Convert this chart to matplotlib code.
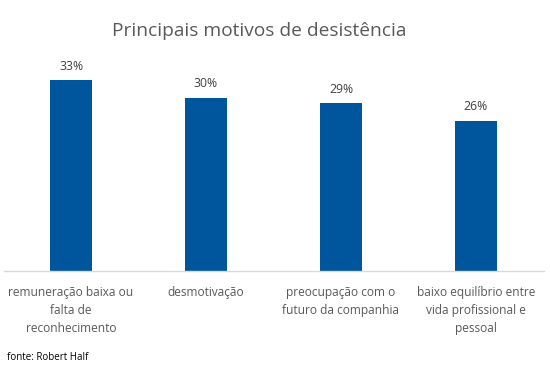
import matplotlib
matplotlib.use("Agg")
import matplotlib.pyplot as plt

categories = ["remuneração baixa ou\nfalta de\nreconhecimento",
              "desmotivação",
              "preocupação com o\nfuturo da companhia",
              "baixo equilíbrio entre\nvida profissional e\npessoal"]
values = [33, 30, 29, 26]
value_labels = ["33%", "30%", "29%", "26%"]
title = "Principais motivos de desistência"
source = "fonte: Robert Half"

plt.rcParams['font.family'] = ['Open Sans', 'DejaVu Sans']
W, H = 550, 367
fig = plt.figure(figsize=(W/100, H/100), dpi=100)
left, right = 3.5/W, 543.5/W
bottom = (H-271)/H
top = (H-60)/H
ax = fig.add_axes([left, bottom, right-left, top-bottom])
x = list(range(len(values)))
ax.bar(x, values, width=0.31, color="#00569C")
ax.set_xlim(-0.5, len(values)-0.5)
ax.set_ylim(0, (271-60)/5.78)
for s in ["top", "right", "left"]:
    ax.spines[s].set_visible(False)
ax.spines["bottom"].set_color("#D9D9D9")
ax.spines["bottom"].set_linewidth(1.0)
ax.set_yticks([])
ax.set_xticks(x)
ax.set_xticklabels(categories, fontsize=8.6, color="#595959", va="top", linespacing=1.5)
ax.tick_params(axis="x", length=0, pad=11)
for xi, v, lab in zip(x, values, value_labels):
    ax.annotate(lab, (xi, v), xytext=(0, 5.5), textcoords="offset points",
                ha="center", va="bottom", fontsize=8.8, color="#404040")
fig.text(259/W, 1-31/H, title, ha="center", va="center", fontsize=13.8, color="#595959")
fig.text(7/W, 1-357/H, source, ha="left", va="center", fontsize=7, color="black")
fig.savefig("out.png", dpi=100)
